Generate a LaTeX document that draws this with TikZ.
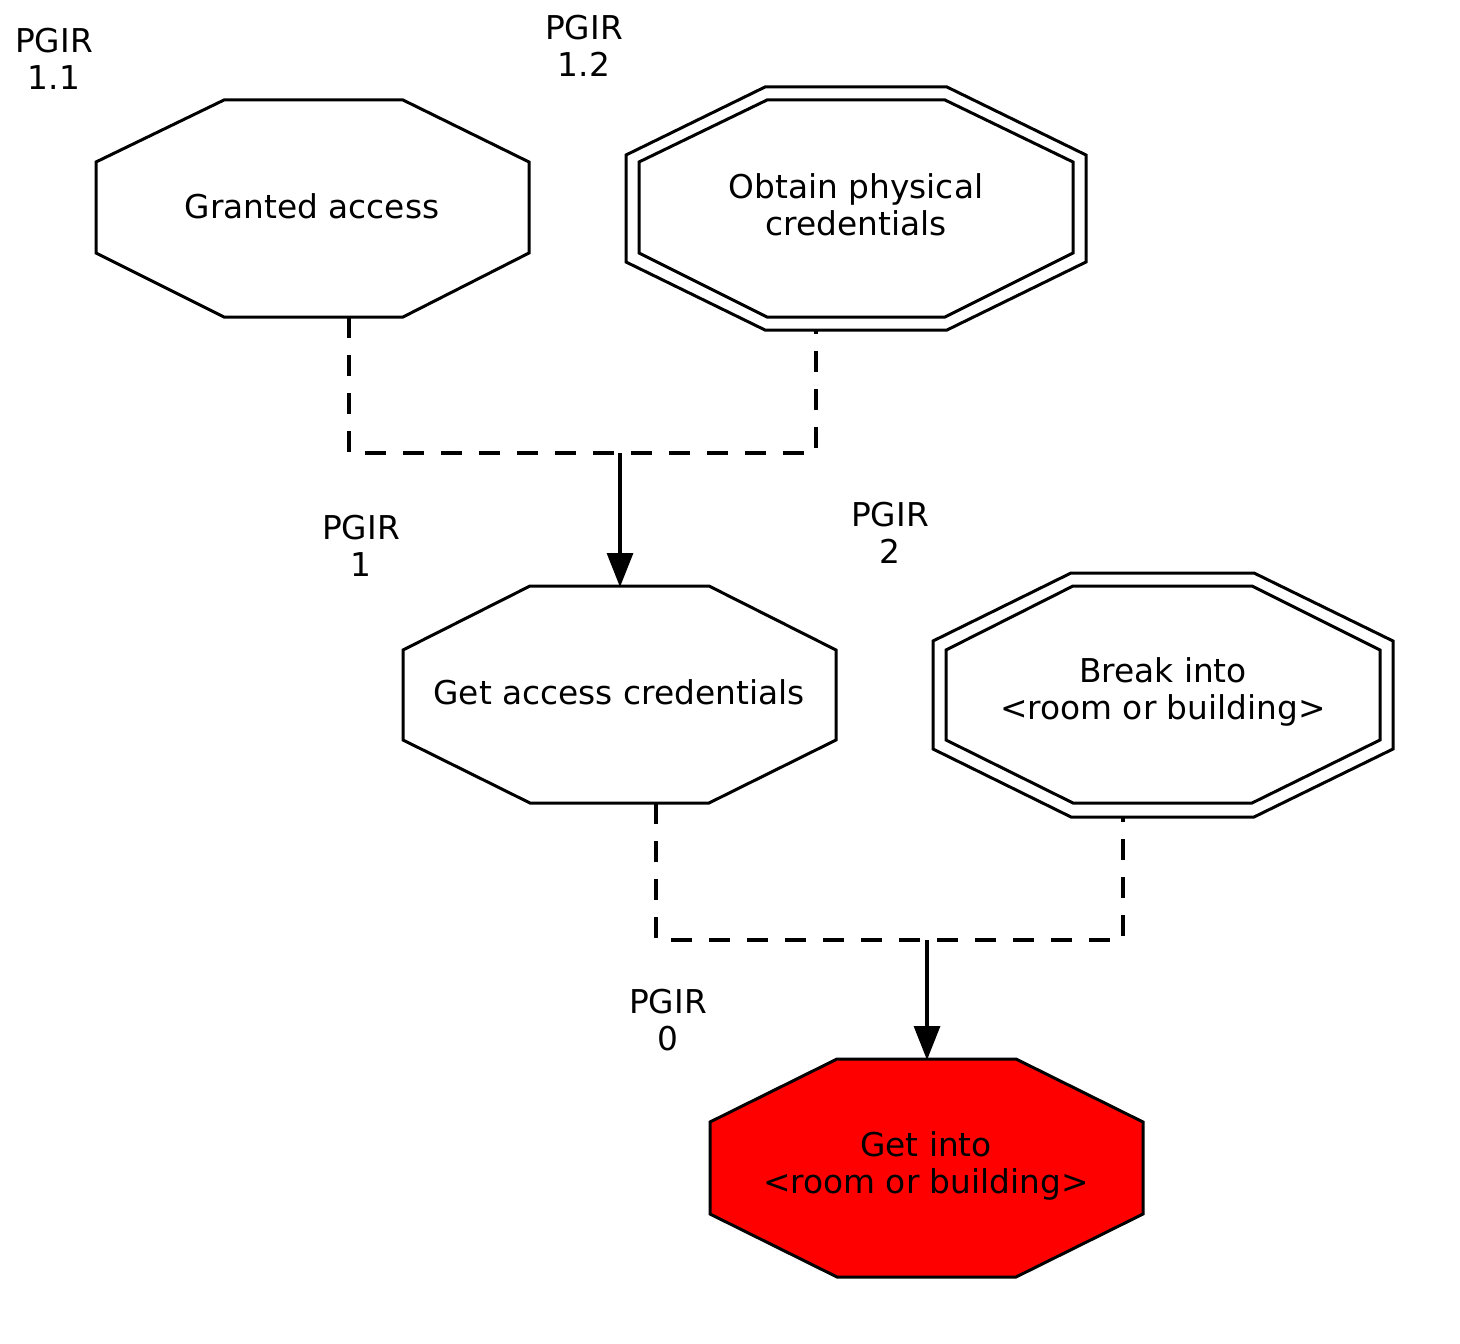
\documentclass[tikz,border=0pt]{standalone}
\usepackage{fontspec}
\setmainfont{DejaVu Sans}
\usetikzlibrary{arrows.meta}
\definecolor{gvred}{HTML}{FF0000}
\begin{document}
\begin{tikzpicture}[x=0.5pt,y=-0.5pt,
  octo/.style={draw=black,line width=1.5pt,line join=miter},
  lbl/.style={font=\fontsize{16.4}{18.5}\selectfont,align=center,inner sep=0pt},
  dashline/.style={draw=black,line width=1.6pt,dash pattern=on 10.5pt off 8.5pt},
  arr/.style={draw=black,line width=1.6pt,-{Triangle[length=17pt,width=13pt]}}]
\useasboundingbox (0,0) rectangle (1460,1343);
% Granted access
\draw[octo] (224,100)--(403,100)--(529,162)--(529,253)--(403,317)--(224,317)--(96,253)--(96,162)--cycle;
\node[lbl] (ga) at (312,206) {Granted access};
% Obtain physical credentials
\draw[octo] (765,87)--(947,87)--(1086,155)--(1086,262)--(947,330)--(765,330)--(626,262)--(626,155)--cycle;
\draw[octo] (767,100)--(945,100)--(1073,162)--(1073,253)--(945,317)--(767,317)--(639,253)--(639,162)--cycle;
\node[lbl] (opc) at (856,205) {Obtain physical\\credentials};
% Get access credentials
\draw[octo] (530,586)--(709,586)--(836,650)--(836,740)--(709,803)--(530,803)--(403,740)--(403,650)--cycle;
\node[lbl] (gac) at (619,692) {Get access credentials};
% Break into
\draw[octo] (1071,573)--(1254,573)--(1393,641)--(1393,749)--(1254,817)--(1071,817)--(933,749)--(933,641)--cycle;
\draw[octo] (1073,586)--(1252,586)--(1380,650)--(1380,740)--(1252,803)--(1073,803)--(946,740)--(946,650)--cycle;
\node[lbl] (bi) at (1163,692) {Break into\\<room or building>};
% Get into
\draw[octo,fill=gvred] (837,1059)--(1016,1059)--(1143,1122)--(1143,1214)--(1016,1277)--(837,1277)--(710,1214)--(710,1122)--cycle;
\node[lbl] (gi) at (926,1166) {Get into\\<room or building>};
% labels
\node[lbl] (l11) at (54,59) {PGIR\\1.1};
\node[lbl] (l12) at (584,46) {PGIR\\1.2};
\node[lbl] (l1) at (361,546) {PGIR\\1};
\node[lbl] (l2) at (890,533) {PGIR\\2};
\node[lbl] (l0) at (668,1020) {PGIR\\0};
% connector coordinates
\coordinate (gaB) at (349,317);
\coordinate (opcB) at (816,330);
\coordinate (j1) at (620,453);
\coordinate (gacT) at (620,587);
\coordinate (gacB) at (656,803);
\coordinate (biB) at (1123,817);
\coordinate (j2) at (927,940);
\coordinate (giT) at (927,1060);
\draw[dashline] (gaB) |- (j1) -| (opcB);
\draw[arr] (j1) -- (gacT);
\draw[dashline] (gacB) |- (j2) -| (biB);
\draw[arr] (j2) -- (giT);
\end{tikzpicture}
\end{document}
